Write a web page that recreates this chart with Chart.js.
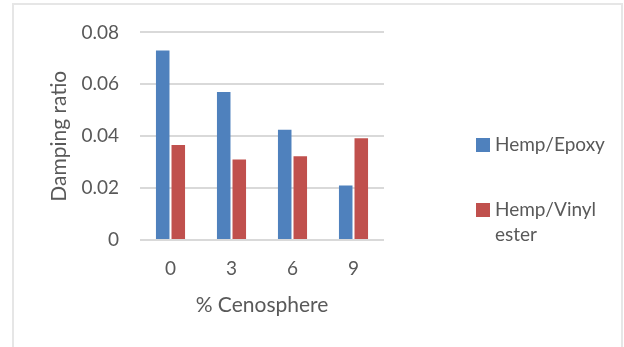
<!DOCTYPE html>
<html>
<head>
<meta charset="utf-8">
<script src="https://cdn.jsdelivr.net/npm/chart.js@4/dist/chart.umd.min.js"></script>
<style>
  html, body { margin: 0; padding: 0; background: #fff; }
  #wrap { position: relative; width: 624px; height: 347px; overflow: hidden; }
  #frame { position: absolute; left: 12px; top: 3px; width: 607px; height: 400px;
           border: 2px solid #e6e6e6; border-bottom: none; }
  #chart_canvas { position: absolute; left: 0; top: 0; }
</style>
</head>
<body>
<div id="wrap">
  <div id="frame"></div>
  <canvas id="chart_canvas" width="624" height="347"></canvas>
</div>
<script>
const categories = ['0', '3', '6', '9'];
const seriesNames = ['Hemp/Epoxy', 'Hemp/Vinyl ester'];
const hempEpoxy = [0.073, 0.057, 0.0425, 0.021];
const hempVinylEster = [0.0366, 0.031, 0.0323, 0.0392];
const yTicks = [0, 0.02, 0.04, 0.06, 0.08];

const FONT = "Lato, 'Open Sans', sans-serif";
const TEXT_COLOR = '#595959';
const CHART_CANVAS = document.getElementById('chart_canvas');

// legend on the right, wraps long names like the original
const sideLegend = {
    id: 'sideLegend',
    afterDraw(chart) {
        const ctx = chart.ctx;
        const rows = [145, 210];
        ctx.save();
        ctx.font = '19px ' + FONT;
        ctx.fillStyle = TEXT_COLOR;
        ctx.textBaseline = 'middle';
        chart.data.datasets.forEach((ds, i) => {
            const y = rows[i];
            ctx.fillStyle = ds.backgroundColor;
            ctx.fillRect(476, y - 7, 14, 14);
            ctx.fillStyle = TEXT_COLOR;
            // simple word wrap
            const words = ds.label.split(' ');
            let line = '', lines = [];
            words.forEach(w => {
                const test = line ? line + ' ' + w : w;
                if (ctx.measureText(test).width > 118 && line) { lines.push(line); line = w; }
                else line = test;
            });
            lines.push(line);
            lines.forEach((l, k) => ctx.fillText(l, 495, y + k * 25));
        });
        ctx.restore();
    }
};

const data = {
    labels: categories,
    datasets: [
        {
            label: seriesNames[0],
            data: hempEpoxy,
            backgroundColor: '#4f81bd',
            categoryPercentage: 0.51,
            barPercentage: 0.87,
        },
        {
            label: seriesNames[1],
            data: hempVinylEster,
            backgroundColor: '#c0504d',
            categoryPercentage: 0.51,
            barPercentage: 0.87,
        },
    ]
};

const config = {
    type: 'bar',
    data: data,
    options: {
        responsive: false,
        animation: false,
        layout: { padding: { left: 0, top: 31, right: 240, bottom: 0 } },
        plugins: {
            legend: { display: false },
            tooltip: { enabled: false },
        },
        scales: {
            x: {
                grid: { display: false, drawTicks: false },
                border: { display: false },
                ticks: { color: TEXT_COLOR, font: { family: FONT, size: 19 }, padding: 17 },
                title: {
                    display: true, text: '% Cenosphere', color: TEXT_COLOR,
                    font: { family: FONT, size: 21 }, padding: { top: 0, bottom: 29 }
                },
                afterFit: (s) => { s.height = 107; },
            },
            y: {
                min: 0,
                max: 0.08,
                afterBuildTicks: (s) => { s.ticks = yTicks.map(v => ({ value: v })); },
                grid: { color: '#d9d9d9', lineWidth: 2, drawTicks: false },
                border: { display: false },
                ticks: {
                    color: TEXT_COLOR, font: { family: FONT, size: 19 }, padding: 21,
                    callback: (v) => v === 0 ? '0' : v.toFixed(2)
                },
                title: {
                    display: true, text: 'Damping ratio', color: TEXT_COLOR,
                    font: { family: FONT, size: 21 }, padding: { top: 47, bottom: 0 }
                },
                afterFit: (s) => { s.width = 140; },
            }
        }
    },
    plugins: [sideLegend]
};

const myChart = new Chart(CHART_CANVAS, config);
</script>
</body>
</html>
